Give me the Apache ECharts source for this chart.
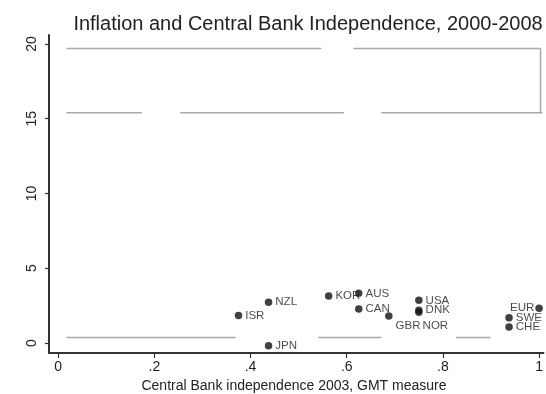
<!DOCTYPE html>
<html>
<head>
<meta charset="utf-8">
<script src="https://cdn.jsdelivr.net/npm/echarts@6/dist/echarts.min.js"></script>
<style>
  html, body { margin: 0; padding: 0; background: #fff; }
  #chart { width: 546px; height: 394px; }
</style>
</head>
<body>
<div id="chart"></div>
<script>
// Central bank independence (GMT index, 2003) vs. average inflation 2000-2008
const countries = ['ISR', 'NZL', 'JPN', 'KOR', 'AUS', 'CAN', 'GBR', 'USA', 'DNK', 'NOR', 'EUR', 'SWE', 'CHE'];
const independence = [0.375, 0.4375, 0.4375, 0.5625, 0.625, 0.625, 0.6875, 0.75, 0.75, 0.75, 1.0, 0.9375, 0.9375];
const inflation = [1.83, 2.72, -0.18, 3.14, 3.32, 2.27, 1.81, 2.85, 2.19, 2.05, 2.32, 1.69, 1.07];

const xTicks = [0, 0.2, 0.4, 0.6, 0.8, 1];
const yTicks = [0, 5, 10, 15, 20];

// faint grey rule segments in the plot region: [x0, x1, y0, y1]
const traceSegments = [
  [0.017, 0.547, 19.7, 19.7],
  [0.614, 1.003, 19.7, 19.7],
  [1.003, 1.003, 19.7, 15.4],
  [0.017, 0.174, 15.4, 15.4],
  [0.254, 0.594, 15.4, 15.4],
  [0.672, 1.007, 15.4, 15.4],
  [0.017, 0.369, 0.37, 0.37],
  [0.541, 0.672, 0.37, 0.37],
  [0.827, 0.899, 0.37, 0.37]
];

// label placement per country (Stata-style clock positions)
const labelPlacement = {
  GBR: { position: 'right', offset: [0, 10] },
  NOR: { position: 'right', offset: [-3, 13] },
  EUR: { position: 'left', offset: [2, 0] }
};

const FONT = '"Liberation Sans", Arial, Helvetica, sans-serif';
const AXIS_COLOR = '#333';

const points = countries.map((c, i) => {
  const p = labelPlacement[c] || { position: 'right', offset: [0, 0] };
  return {
    value: [independence[i], inflation[i]],
    name: c,
    label: { position: p.position, offset: p.offset }
  };
});

const traceSeries = traceSegments.map(s => ({
  type: 'line',
  data: [[s[0], s[2]], [s[1], s[3]]],
  symbol: 'none',
  silent: true,
  z: 1,
  lineStyle: { color: '#a8a8a8', width: 1.5 }
}));

const chart = echarts.init(document.getElementById('chart'), null, { renderer: 'canvas' });
chart.setOption({
  backgroundColor: '#ffffff',
  animation: false,
  title: [
    {
      text: 'Inflation and Central Bank Independence, 2000-2008',
      left: 303, top: 9, textAlign: 'center',
      textStyle: { fontFamily: FONT, fontSize: 20, fontWeight: 'normal', color: '#222' }
    },
    {
      text: 'Central Bank independence 2003, GMT measure',
      left: 289, top: 374, textAlign: 'center',
      textStyle: { fontFamily: FONT, fontSize: 14, fontWeight: 'normal', color: '#222' }
    }
  ],
  grid: { left: 49, right: 0, top: 35, bottom: 41 },
  xAxis: {
    type: 'value',
    min: -0.019, max: 1.009,
    splitLine: { show: false },
    axisLine: { show: true, onZero: false, lineStyle: { color: AXIS_COLOR, width: 2 } },
    axisTick: { show: true, length: 5, customValues: xTicks, lineStyle: { color: AXIS_COLOR, width: 1.2 } },
    axisLabel: {
      customValues: xTicks, margin: 7,
      fontFamily: FONT, fontSize: 14, color: '#222',
      formatter: v => (v === 0 ? '0' : v === 1 ? '1' : String(Math.round(v * 10) / 10).replace(/^0/, ''))
    }
  },
  yAxis: {
    type: 'value',
    min: -0.67, max: 20.6,
    splitLine: { show: false },
    axisLine: { show: true, onZero: false, lineStyle: { color: AXIS_COLOR, width: 2 } },
    axisTick: { show: true, length: 4, customValues: yTicks, lineStyle: { color: AXIS_COLOR, width: 1.2 } },
    axisLabel: {
      customValues: yTicks, rotate: 90, margin: 10,
      fontFamily: FONT, fontSize: 14, color: '#222'
    }
  },
  series: traceSeries.concat([{
    type: 'scatter',
    data: points,
    symbol: 'circle',
    symbolSize: 7.5,
    z: 5,
    itemStyle: { color: '#111' },
    label: {
      show: true,
      formatter: p => p.name,
      distance: 3,
      fontFamily: FONT, fontSize: 11.5, color: '#1a1a1a'
    }
  }])
});
</script>
</body>
</html>
